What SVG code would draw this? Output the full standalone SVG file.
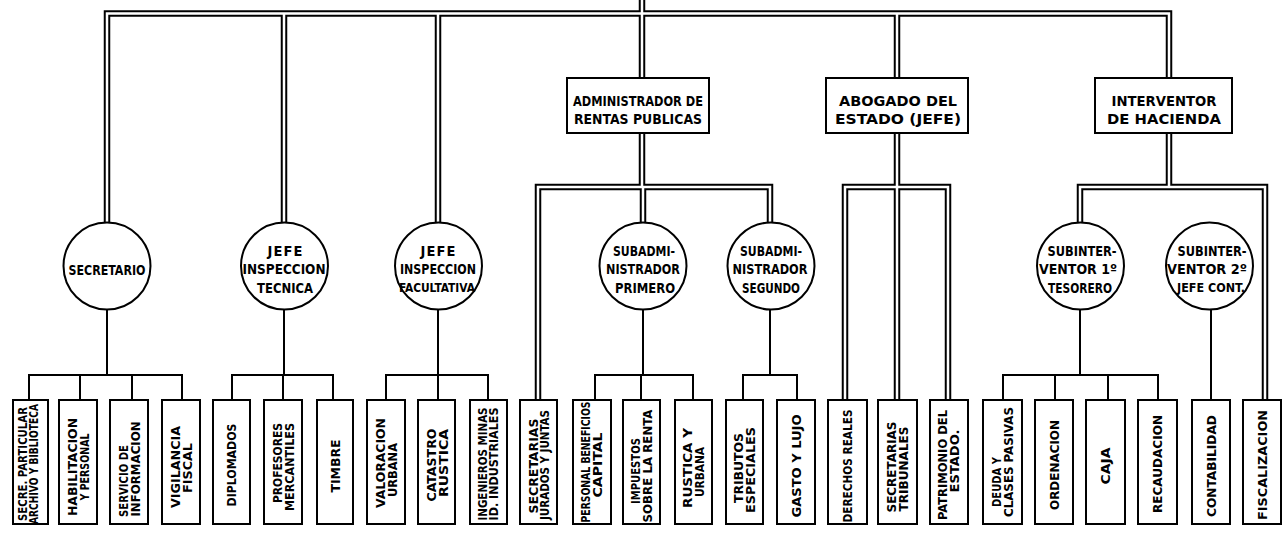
<svg xmlns="http://www.w3.org/2000/svg" width="1285" height="535" viewBox="0 0 1285 535">
<style>
.o{fill:none;stroke:#000;stroke-width:6.5;stroke-linejoin:miter}
.i{fill:none;stroke:#fff;stroke-width:2.5;stroke-linejoin:miter}
.s{fill:none;stroke:#000;stroke-width:2}
.bx{fill:#fff;stroke:#000;stroke-width:2}
.ci{fill:#fff;stroke:#000;stroke-width:2}
text{font-family:'DejaVu Sans Condensed','DejaVu Sans','Liberation Sans',sans-serif;font-stretch:condensed;font-weight:bold;fill:#000;text-anchor:middle}
.tb{font-size:13px}
.tc{font-size:14.5px}
.tt{font-size:14.5px}
.sm{font-size:11.5px}
.sc{font-size:12.5px}
</style>
<defs>
<path id="d1" d="M642,0 V78"/>
<path id="d2" d="M107,223 V13.5 H1169 V78"/>
<path id="d3" d="M284,13.5 V223"/>
<path id="d4" d="M438,13.5 V223"/>
<path id="d5" d="M897,13.5 V78"/>
<path id="d6" d="M642,133 V187"/>
<path id="d7" d="M538,400 V187 H770 V223"/>
<path id="d8" d="M643,187 V223"/>
<path id="d9" d="M897,133 V400"/>
<path id="d10" d="M845,400 V187 H948 V400"/>
<path id="d11" d="M1169,133 V187"/>
<path id="d12" d="M1080,223 V187 H1265 V400"/>
</defs>
<rect width="1285" height="535" fill="#fff"/>
<g id="connectors">
<g class="o">
<use href="#d1"/><use href="#d2"/><use href="#d3"/><use href="#d4"/><use href="#d5"/><use href="#d6"/><use href="#d7"/><use href="#d8"/><use href="#d9"/><use href="#d10"/><use href="#d11"/><use href="#d12"/>
</g>
<g class="i">
<use href="#d1"/><use href="#d2"/><use href="#d3"/><use href="#d4"/><use href="#d5"/><use href="#d6"/><use href="#d7"/><use href="#d8"/><use href="#d9"/><use href="#d10"/><use href="#d11"/><use href="#d12"/>
</g>
<g class="s">
<path d="M107,310 V375 M29,400 V375 H182 V400 M80,375 V400 M132,375 V400"/>
<path d="M284,310 V375 M232,400 V375 H333 V400 M283,375 V400"/>
<path d="M438,310 V375 M386,400 V375 H488 V400 M438,375 V400"/>
<path d="M643,310 V375 M595,400 V375 H693 V400 M641,375 V400"/>
<path d="M770,310 V375 M743,400 V375 H797 V400"/>
<path d="M1080,310 V375 M1003,400 V375 H1158 V400 M1055,375 V400 M1108,375 V400"/>
<path d="M1211,310 V400"/>
</g>
</g>

<g id="n-administrador"><rect class="bx" x="567" y="78" width="142" height="55"/>
<text class="tt" x="638" y="105.5" textLength="130" lengthAdjust="spacingAndGlyphs">ADMINISTRADOR DE</text>
<text class="tt" x="638" y="123.5" textLength="128" lengthAdjust="spacingAndGlyphs">RENTAS PUBLICAS</text></g>
<g id="n-abogado"><rect class="bx" x="826" y="78" width="142" height="55"/>
<text class="tt" x="898" y="105.5" textLength="118" lengthAdjust="spacingAndGlyphs">ABOGADO DEL</text>
<text class="tt" x="898" y="123.5" textLength="126" lengthAdjust="spacingAndGlyphs">ESTADO (JEFE)</text></g>
<g id="n-interventor"><rect class="bx" x="1095" y="78" width="137" height="55"/>
<text class="tt" x="1164" y="105.5" textLength="105" lengthAdjust="spacingAndGlyphs">INTERVENTOR</text>
<text class="tt" x="1164" y="123.5" textLength="114" lengthAdjust="spacingAndGlyphs">DE HACIENDA</text></g>

<g id="n-secretario"><circle class="ci" cx="107" cy="266" r="43.5"/>
<text class="tc" x="107" y="274.5" textLength="77" lengthAdjust="spacingAndGlyphs">SECRETARIO</text></g>
<g id="n-jefe-tecnica"><circle class="ci" cx="284.5" cy="266" r="43.5"/>
<text class="tc" x="285" y="255.5" textLength="35" lengthAdjust="spacing">JEFE</text>
<text class="tc" x="284" y="274" textLength="83" lengthAdjust="spacingAndGlyphs">INSPECCION</text>
<text class="tc" x="285" y="292.5" textLength="56" lengthAdjust="spacingAndGlyphs">TECNICA</text></g>
<g id="n-jefe-facultativa"><circle class="ci" cx="438.5" cy="266" r="43.5"/>
<text class="tc" x="438" y="255.5" textLength="35" lengthAdjust="spacing">JEFE</text>
<text class="tc" x="438" y="274" textLength="76" lengthAdjust="spacingAndGlyphs">INSPECCION</text>
<text class="sc" x="437" y="291.5" textLength="76" lengthAdjust="spacingAndGlyphs">FACULTATIVA</text></g>
<g id="n-subadmin-1"><circle class="ci" cx="643" cy="266" r="43.5"/>
<text class="tc" x="644" y="255.5" textLength="62" lengthAdjust="spacingAndGlyphs">SUBADMI-</text>
<text class="tc" x="643" y="274" textLength="74" lengthAdjust="spacingAndGlyphs">NISTRADOR</text>
<text class="tc" x="645" y="292.5" textLength="60" lengthAdjust="spacingAndGlyphs">PRIMERO</text></g>
<g id="n-subadmin-2"><circle class="ci" cx="771" cy="266" r="43.5"/>
<text class="tc" x="771" y="255.5" textLength="62" lengthAdjust="spacingAndGlyphs">SUBADMI-</text>
<text class="tc" x="770" y="274" textLength="75" lengthAdjust="spacingAndGlyphs">NISTRADOR</text>
<text class="tc" x="771" y="292.5" textLength="58" lengthAdjust="spacingAndGlyphs">SEGUNDO</text></g>
<g id="n-subinter-1"><circle class="ci" cx="1080.5" cy="266" r="43.5"/>
<text class="tc" x="1082" y="255.5" textLength="69" lengthAdjust="spacingAndGlyphs">SUBINTER-</text>
<text class="tc" x="1078" y="274" textLength="78" lengthAdjust="spacingAndGlyphs">VENTOR 1º</text>
<text class="tc" x="1080" y="292.5" textLength="64" lengthAdjust="spacingAndGlyphs">TESORERO</text></g>
<g id="n-subinter-2"><circle class="ci" cx="1209.5" cy="266" r="43.5"/>
<text class="tc" x="1212" y="255.5" textLength="69" lengthAdjust="spacingAndGlyphs">SUBINTER-</text>
<text class="tc" x="1207" y="274" textLength="80" lengthAdjust="spacingAndGlyphs">VENTOR 2º</text>
<text class="sc" x="1211" y="291.5" textLength="68" lengthAdjust="spacingAndGlyphs">JEFE CONT.</text></g>

<g id="b01"><rect class="bx" x="13" y="400" width="35" height="124"/>
<text class="sm" transform="translate(27,464) rotate(-90)" textLength="114" lengthAdjust="spacingAndGlyphs">SECRE. PARTICULAR</text>
<text class="sm" transform="translate(38,464) rotate(-90)" textLength="120" lengthAdjust="spacingAndGlyphs">ARCHIVO Y BIBLIOTECA</text></g>
<g id="b02"><rect class="bx" x="59" y="400" width="38" height="124"/>
<text class="tb" transform="translate(76.5,467) rotate(-90)" textLength="98" lengthAdjust="spacingAndGlyphs">HABILITACION</text>
<text class="tb" transform="translate(89,467) rotate(-90)" textLength="67" lengthAdjust="spacingAndGlyphs">Y PERSONAL</text></g>
<g id="b03"><rect class="bx" x="110" y="400" width="38" height="124"/>
<text class="tb" transform="translate(127.5,481) rotate(-90)" textLength="72" lengthAdjust="spacingAndGlyphs">SERVICIO DE</text>
<text class="tb" transform="translate(140,469) rotate(-90)" textLength="95" lengthAdjust="spacingAndGlyphs">INFORMACION</text></g>
<g id="b04"><rect class="bx" x="162" y="400" width="38" height="124"/>
<text class="tb" transform="translate(179.5,467) rotate(-90)" textLength="82" lengthAdjust="spacingAndGlyphs">VIGILANCIA</text>
<text class="tb" transform="translate(192,468) rotate(-90)" textLength="50" lengthAdjust="spacingAndGlyphs">FISCAL</text></g>
<g id="b05"><rect class="bx" x="213" y="400" width="37" height="124"/>
<text class="tb" transform="translate(236,465) rotate(-90)" textLength="83" lengthAdjust="spacingAndGlyphs">DIPLOMADOS</text></g>
<g id="b06"><rect class="bx" x="264" y="400" width="38" height="124"/>
<text class="tb" transform="translate(281.5,463) rotate(-90)" textLength="80" lengthAdjust="spacingAndGlyphs">PROFESORES</text>
<text class="tb" transform="translate(294,467) rotate(-90)" textLength="88" lengthAdjust="spacingAndGlyphs">MERCANTILES</text></g>
<g id="b07"><rect class="bx" x="317" y="400" width="36" height="124"/>
<text class="tb" transform="translate(340,466) rotate(-90)" textLength="53" lengthAdjust="spacingAndGlyphs">TIMBRE</text></g>
<g id="b08"><rect class="bx" x="367" y="400" width="38" height="124"/>
<text class="tb" transform="translate(384.5,463) rotate(-90)" textLength="90" lengthAdjust="spacingAndGlyphs">VALORACION</text>
<text class="tb" transform="translate(397,470) rotate(-90)" textLength="54" lengthAdjust="spacingAndGlyphs">URBANA</text></g>
<g id="b09"><rect class="bx" x="418" y="400" width="37" height="124"/>
<text class="tb" transform="translate(435.5,465) rotate(-90)" textLength="73" lengthAdjust="spacingAndGlyphs">CATASTRO</text>
<text class="tb" transform="translate(448,463) rotate(-90)" textLength="68" lengthAdjust="spacingAndGlyphs">RUSTICA</text></g>
<g id="b10"><rect class="bx" x="470" y="400" width="37" height="124"/>
<text class="sm" transform="translate(486.5,464) rotate(-90)" textLength="113" lengthAdjust="spacingAndGlyphs">INGENIEROS MINAS</text>
<text class="sm" transform="translate(498,464) rotate(-90)" textLength="113" lengthAdjust="spacingAndGlyphs">ID. INDUSTRIALES</text></g>
<g id="b11"><rect class="bx" x="520" y="400" width="37" height="124"/>
<text class="tb" transform="translate(537.5,466) rotate(-90)" textLength="95" lengthAdjust="spacingAndGlyphs">SECRETARIAS</text>
<text class="sm" transform="translate(549,465) rotate(-90)" textLength="110" lengthAdjust="spacingAndGlyphs">JURADOS Y JUNTAS</text></g>
<g id="b12"><rect class="bx" x="573" y="400" width="38" height="124"/>
<text class="sm" transform="translate(589.5,462) rotate(-90)" textLength="121" lengthAdjust="spacingAndGlyphs">PERSONAL BENEFICIOS</text>
<text class="tb" transform="translate(602,465) rotate(-90)" textLength="65" lengthAdjust="spacingAndGlyphs">CAPITAL</text></g>
<g id="b13"><rect class="bx" x="623" y="400" width="37" height="124"/>
<text class="tb" transform="translate(639.5,471) rotate(-90)" textLength="66" lengthAdjust="spacingAndGlyphs">IMPUESTOS</text>
<text class="tb" transform="translate(652,466) rotate(-90)" textLength="113" lengthAdjust="spacingAndGlyphs">SOBRE LA RENTA</text></g>
<g id="b14"><rect class="bx" x="675" y="400" width="37" height="124"/>
<text class="tb" transform="translate(691.5,468) rotate(-90)" textLength="80" lengthAdjust="spacingAndGlyphs">RUSTICA Y</text>
<text class="tb" transform="translate(704,472) rotate(-90)" textLength="50" lengthAdjust="spacingAndGlyphs">URBANA</text></g>
<g id="b15"><rect class="bx" x="726" y="400" width="37" height="124"/>
<text class="tb" transform="translate(742.5,468) rotate(-90)" textLength="70" lengthAdjust="spacingAndGlyphs">TRIBUTOS</text>
<text class="tb" transform="translate(755,470) rotate(-90)" textLength="86" lengthAdjust="spacingAndGlyphs">ESPECIALES</text></g>
<g id="b16"><rect class="bx" x="777" y="400" width="38" height="124"/>
<text class="tb" transform="translate(801,466) rotate(-90)" textLength="103" lengthAdjust="spacingAndGlyphs">GASTO Y LUJO</text></g>
<g id="b17"><rect class="bx" x="828" y="400" width="39" height="124"/>
<text class="tb" transform="translate(852,466) rotate(-90)" textLength="113" lengthAdjust="spacingAndGlyphs">DERECHOS REALES</text></g>
<g id="b18"><rect class="bx" x="878" y="400" width="39" height="124"/>
<text class="tb" transform="translate(895.5,467) rotate(-90)" textLength="91" lengthAdjust="spacingAndGlyphs">SECRETARIAS</text>
<text class="tb" transform="translate(908,469) rotate(-90)" textLength="85" lengthAdjust="spacingAndGlyphs">TRIBUNALES</text></g>
<g id="b19"><rect class="bx" x="930" y="400" width="38" height="124"/>
<text class="tb" transform="translate(946.5,465) rotate(-90)" textLength="110" lengthAdjust="spacingAndGlyphs">PATRIMONIO DEL</text>
<text class="tb" transform="translate(959,461) rotate(-90)" textLength="63" lengthAdjust="spacingAndGlyphs">ESTADO.</text></g>
<g id="b20"><rect class="bx" x="983" y="400" width="39" height="124"/>
<text class="tb" transform="translate(1000.5,482) rotate(-90)" textLength="50" lengthAdjust="spacingAndGlyphs">DEUDA Y</text>
<text class="tb" transform="translate(1013,462) rotate(-90)" textLength="110" lengthAdjust="spacingAndGlyphs">CLASES PASIVAS</text></g>
<g id="b21"><rect class="bx" x="1035" y="400" width="38" height="124"/>
<text class="tb" transform="translate(1059,465) rotate(-90)" textLength="90" lengthAdjust="spacingAndGlyphs">ORDENACION</text></g>
<g id="b22"><rect class="bx" x="1086" y="400" width="39" height="124"/>
<text class="tb" transform="translate(1110,466) rotate(-90)" textLength="37" lengthAdjust="spacingAndGlyphs">CAJA</text></g>
<g id="b23"><rect class="bx" x="1138" y="400" width="39" height="124"/>
<text class="tb" transform="translate(1162,464) rotate(-90)" textLength="98" lengthAdjust="spacingAndGlyphs">RECAUDACION</text></g>
<g id="b24"><rect class="bx" x="1192" y="400" width="38" height="124"/>
<text class="tb" transform="translate(1215.5,466) rotate(-90)" textLength="102" lengthAdjust="spacingAndGlyphs">CONTABILIDAD</text></g>
<g id="b25"><rect class="bx" x="1243" y="400" width="38" height="124"/>
<text class="tb" transform="translate(1267,465) rotate(-90)" textLength="110" lengthAdjust="spacingAndGlyphs">FISCALIZACION</text></g>
</svg>
